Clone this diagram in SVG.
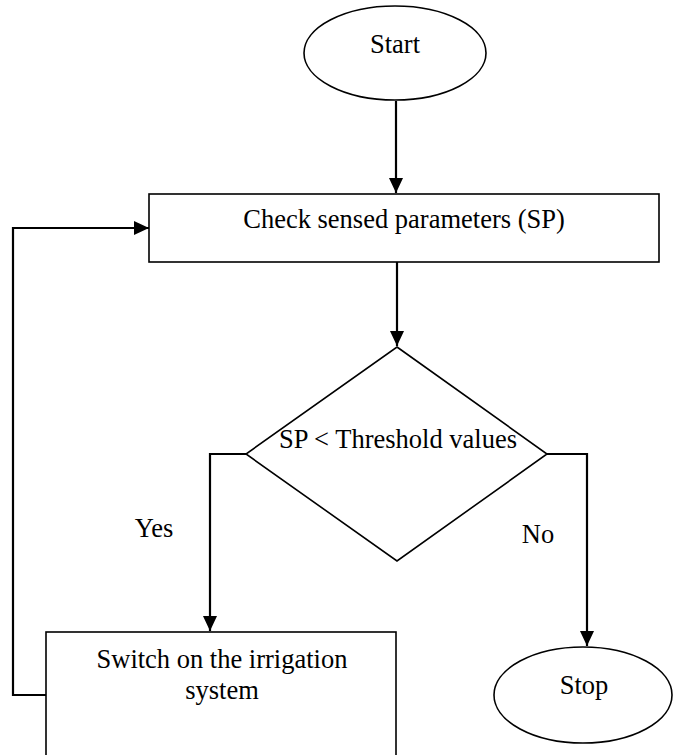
<svg xmlns="http://www.w3.org/2000/svg" width="673" height="755" viewBox="0 0 673 755">
<defs>
<marker id="arr" markerWidth="16" markerHeight="16" refX="15" refY="7" orient="auto" markerUnits="userSpaceOnUse">
<path d="M0,0 L15,7 L0,14 Z" fill="#000"/>
</marker>
<style>
.shape{fill:#fff;stroke:#000;stroke-width:1.6}
.conn{fill:none;stroke:#000;stroke-width:2.2}
.arr{marker-end:url(#arr)}
text{font-family:"Liberation Serif","Times New Roman",serif;font-size:26.5px;fill:#000;text-anchor:middle}
</style>
</defs>
<rect width="673" height="755" fill="#fff"/>
<g id="connectors">
<path class="conn arr" d="M396,101 L396,193"/>
<path class="conn arr" d="M397,262 L397,346"/>
<path class="conn arr" d="M246,454 L210,454 L210,631"/>
<path class="conn arr" d="M547,454 L587,454 L587,646"/>
<path class="conn arr" d="M46,695 L13,695 L13,228 L149,228"/>
</g>
<g id="start">
<ellipse class="shape" cx="395" cy="53" rx="91" ry="47"/>
<text x="395" y="53">Start</text>
</g>
<g id="check">
<rect class="shape" x="149" y="194" width="510" height="68"/>
<text x="404" y="228">Check sensed parameters (SP)</text>
</g>
<g id="decision">
<polygon class="shape" points="397,347 547,454 397,561 246,454"/>
<text x="398" y="448">SP &lt; Threshold values</text>
</g>
<g id="switch">
<rect class="shape" x="46" y="632" width="350" height="140"/>
<text x="222" y="668">Switch on the irrigation</text>
<text x="222" y="699">system</text>
</g>
<g id="stop">
<ellipse class="shape" cx="583" cy="695" rx="89" ry="48"/>
<text x="584" y="694">Stop</text>
</g>
<g id="labels">
<text x="154" y="537">Yes</text>
<text x="538" y="543">No</text>
</g>
</svg>
